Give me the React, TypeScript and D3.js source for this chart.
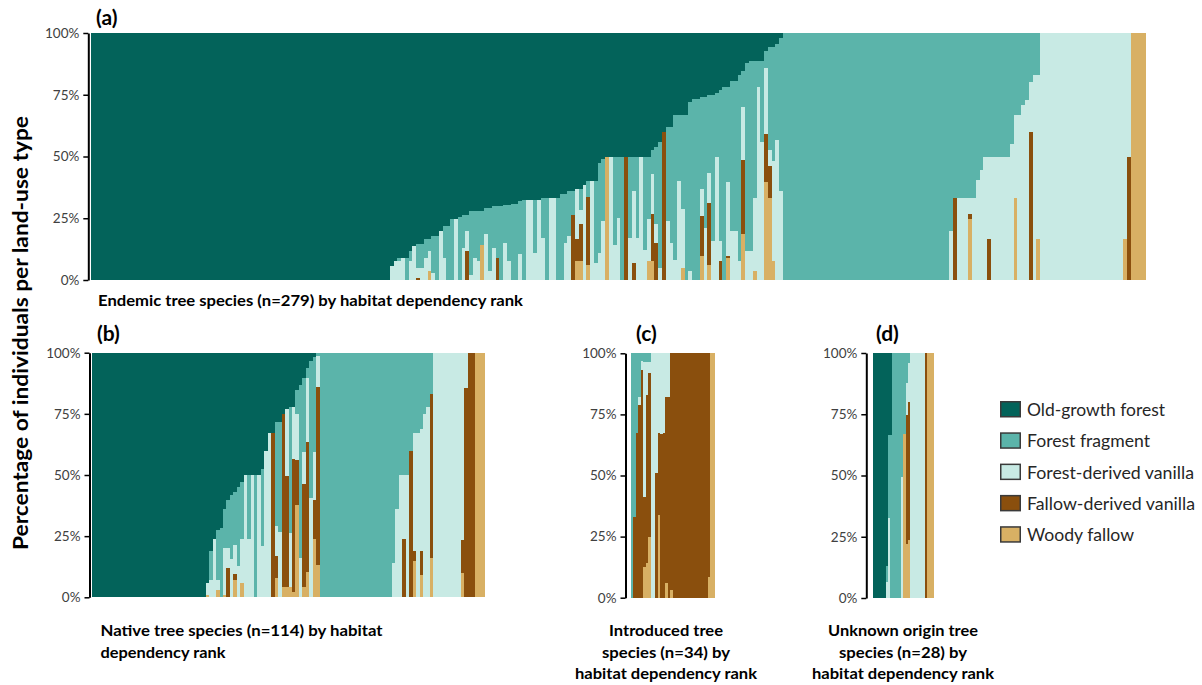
import { useRef, useEffect } from 'react'
import * as d3 from 'd3'

const WIDTH = 1202
const HEIGHT = 685

// land-use types, from the top of each stacked bar down
const landUseNames = ['Old-growth forest', 'Forest fragment', 'Forest-derived vanilla', 'Fallow-derived vanilla', 'Woody fallow']
const landUseKeys = ['og', 'ff', 'fv', 'dv', 'wf']
const landUseColors = ['#03635A', '#5BB4AA', '#C8EAE4', '#8A4F0D', '#D8B064']

const yTickValues = [0, 0.25, 0.5, 0.75, 1]

// (a) endemic species, n=279 -- % of individuals per land-use type
const endemicOld = [
  100, 100, 100, 100, 100, 100, 100, 100, 100, 100,
  100, 100, 100, 100, 100, 100, 100, 100, 100, 100,
  100, 100, 100, 100, 100, 100, 100, 100, 100, 100,
  100, 100, 100, 100, 100, 100, 100, 100, 100, 100,
  100, 100, 100, 100, 100, 100, 100, 100, 100, 100,
  100, 100, 100, 100, 100, 100, 100, 100, 100, 100,
  100, 100, 100, 100, 100, 100, 100, 100, 100, 100,
  100, 100, 100, 100, 100, 100, 100, 100, 100, 94.5,
  92.4, 91.1, 91.1, 91.1, 88.1, 86.4, 85.4, 85.4, 83.3, 83.3,
  82, 82, 80.3, 78.3, 78.3, 75.2, 75.2, 74.6, 73.5, 73.5,
  72.2, 72.2, 72, 72, 71, 71, 70, 70, 70, 69.8,
  69.8, 69.2, 69.2, 68.2, 67.5, 67.5, 67.5, 67.5, 67.5, 67,
  67, 67, 67, 66.8, 65, 65, 64, 64, 63, 63,
  61.4, 60, 60, 60, 52.6, 51, 50, 50, 50, 50,
  50, 50, 50, 50, 50, 50, 50, 50, 47.2, 46,
  44, 40, 38, 38, 33, 33, 33, 33, 28, 26.6,
  26.6, 26, 26, 25, 25, 24.3, 23, 22, 22, 19.6,
  19.6, 17, 15.5, 12, 11.5, 11.5, 11.2, 11.2, 7.2, 5.8,
  5.8, 4.5, 2, 0, 0, 0, 0, 0, 0, 0,
  0, 0, 0, 0, 0, 0, 0, 0, 0, 0,
  0, 0, 0, 0, 0, 0, 0, 0, 0, 0,
  0, 0, 0, 0, 0, 0, 0, 0, 0, 0,
  0, 0, 0, 0, 0, 0, 0, 0, 0, 0,
  0, 0, 0, 0, 0, 0, 0, 0, 0, 0,
  0, 0, 0, 0, 0, 0, 0, 0, 0, 0,
  0, 0, 0, 0, 0, 0, 0, 0, 0, 0,
  0, 0, 0, 0, 0, 0, 0, 0, 0, 0,
  0, 0, 0, 0, 0, 0, 0, 0, 0,
]
const endemicFragment = [
  0, 0, 0, 0, 0, 0, 0, 0, 0, 0,
  0, 0, 0, 0, 0, 0, 0, 0, 0, 0,
  0, 0, 0, 0, 0, 0, 0, 0, 0, 0,
  0, 0, 0, 0, 0, 0, 0, 0, 0, 0,
  0, 0, 0, 0, 0, 0, 0, 0, 0, 0,
  0, 0, 0, 0, 0, 0, 0, 0, 0, 0,
  0, 0, 0, 0, 0, 0, 0, 0, 0, 0,
  0, 0, 0, 0, 0, 0, 0, 0, 0, 0,
  0, 1.3, 0, 8.9, 4.3, 0, 9.7, 9.7, 7.8, 4.8,
  15.2, 18, 0, 12.8, 21.7, 24.8, 0, 25.4, 13.5, 6.8,
  25.6, 18.9, 20.4, 14, 10.4, 25.2, 17, 21.1, 30, 15.2,
  22.4, 30.8, 30.8, 21.3, 32.5, 0, 0, 21.5, 0, 16,
  33, 0, 0, 33.2, 35, 20, 18.3, 9.5, 0, 8.5,
  0, 6.3, 0, 33, 36.4, 25, 0, 0, 36, 25,
  50, 0, 33, 14, 33, 0, 38, 25.2, 9.8, 31.2,
  51.1, 0, 38.2, 47, 59, 27, 38.2, 67, 68.2, 73.4,
  73.4, 37.3, 53, 31.7, 59.3, 25.7, 61.3, 78, 38.5, 60.4,
  60.4, 75.4, 14.3, 76.1, 76.6, 55.3, 10.8, 32.8, 6.8, 41.4,
  46.2, 38.7, 62, 100, 100, 100, 100, 100, 100, 100,
  100, 100, 100, 100, 100, 100, 100, 100, 100, 100,
  100, 100, 100, 100, 100, 100, 100, 100, 100, 100,
  100, 100, 100, 100, 100, 100, 100, 100, 100, 100,
  100, 100, 100, 100, 100, 100, 100, 80, 67, 67,
  67, 67, 67, 67, 59.4, 55.3, 50, 50, 50, 50,
  50, 50, 50, 45, 33.3, 33.3, 29, 27, 20, 17,
  17, 0, 0, 0, 0, 0, 0, 0, 0, 0,
  0, 0, 0, 0, 0, 0, 0, 0, 0, 0,
  0, 0, 0, 0, 0, 0, 0, 0, 0,
]
const endemicForestVanilla = [
  0, 0, 0, 0, 0, 0, 0, 0, 0, 0,
  0, 0, 0, 0, 0, 0, 0, 0, 0, 0,
  0, 0, 0, 0, 0, 0, 0, 0, 0, 0,
  0, 0, 0, 0, 0, 0, 0, 0, 0, 0,
  0, 0, 0, 0, 0, 0, 0, 0, 0, 0,
  0, 0, 0, 0, 0, 0, 0, 0, 0, 0,
  0, 0, 0, 0, 0, 0, 0, 0, 0, 0,
  0, 0, 0, 0, 0, 0, 0, 0, 0, 5.5,
  7.6, 7.6, 8.9, 0, 7.6, 13.6, 4.1, 4.9, 8.9, 8.1,
  2.8, 0, 19.7, 8.9, 0, 0, 24.8, 0, 13, 8.1,
  2.2, 8.9, 7.6, 0, 18.6, 3.8, 13, 0, 0, 15,
  7.8, 0, 0, 10.5, 0, 32.5, 32.5, 11, 32.5, 17,
  0, 33, 33, 0, 0, 15, 17.7, 0, 20.3, 6,
  38.6, 0, 40, 7, 11, 24, 0, 50, 14, 25,
  0, 0, 17, 29.3, 17, 50, 12, 17.3, 16.1, 8,
  4.9, 0, 23.8, 15, 8, 40, 23.9, 0, 3.8, 0,
  0, 10.9, 21, 12.1, 15.7, 50, 7.9, 0, 29.9, 20,
  20, 7.6, 21.8, 11.9, 11.9, 29.4, 78, 56, 26.9, 6.7,
  40.4, 56.8, 36, 0, 0, 0, 0, 0, 0, 0,
  0, 0, 0, 0, 0, 0, 0, 0, 0, 0,
  0, 0, 0, 0, 0, 0, 0, 0, 0, 0,
  0, 0, 0, 0, 0, 0, 0, 0, 0, 0,
  0, 0, 0, 0, 0, 0, 0, 20, 0, 33,
  33, 33, 6.4, 33, 40.6, 44.7, 50, 33.3, 50, 50,
  50, 50, 50, 55, 33.7, 66.7, 71, 73, 20, 83,
  66.4, 100, 100, 100, 100, 100, 100, 100, 100, 100,
  100, 100, 100, 100, 100, 100, 100, 100, 100, 100,
  100, 100, 100, 83.3, 50, 0, 0, 0, 0,
]
const endemicFallowVanilla = [
  0, 0, 0, 0, 0, 0, 0, 0, 0, 0,
  0, 0, 0, 0, 0, 0, 0, 0, 0, 0,
  0, 0, 0, 0, 0, 0, 0, 0, 0, 0,
  0, 0, 0, 0, 0, 0, 0, 0, 0, 0,
  0, 0, 0, 0, 0, 0, 0, 0, 0, 0,
  0, 0, 0, 0, 0, 0, 0, 0, 0, 0,
  0, 0, 0, 0, 0, 0, 0, 0, 0, 0,
  0, 0, 0, 0, 0, 0, 0, 0, 0, 0,
  0, 0, 0, 0, 0, 0, 0.8, 0, 0, 0,
  0, 0, 0, 0, 0, 0, 0, 0, 0, 11.6,
  0, 0, 0, 0, 0, 0, 0, 8.9, 0, 0,
  0, 0, 0, 0, 0, 0, 0, 0, 0, 0,
  0, 0, 0, 0, 0, 0, 0, 26.5, 9.2, 15,
  0, 27.7, 0, 0, 0, 0, 0, 0, 0, 0,
  0, 50, 0, 6.7, 0, 0, 0, 0, 19.4, 14.8,
  0, 60, 0, 0, 0, 0, 0, 0, 0, 0,
  0, 16.2, 0, 25.2, 0, 0, 7.8, 0, 0.7, 0,
  0, 0, 29.8, 0, 0, 0, 0, 0, 19.6, 13.1,
  0, 0, 0, 0, 0, 0, 0, 0, 0, 0,
  0, 0, 0, 0, 0, 0, 0, 0, 0, 0,
  0, 0, 0, 0, 0, 0, 0, 0, 0, 0,
  0, 0, 0, 0, 0, 0, 0, 0, 0, 0,
  0, 0, 0, 0, 0, 0, 0, 0, 33, 0,
  0, 0, 2, 0, 0, 0, 0, 16.7, 0, 0,
  0, 0, 0, 0, 0, 0, 0, 0, 60, 0,
  0, 0, 0, 0, 0, 0, 0, 0, 0, 0,
  0, 0, 0, 0, 0, 0, 0, 0, 0, 0,
  0, 0, 0, 0, 50, 0, 0, 0, 0,
]
const endemicWoodyFallow = [
  0, 0, 0, 0, 0, 0, 0, 0, 0, 0,
  0, 0, 0, 0, 0, 0, 0, 0, 0, 0,
  0, 0, 0, 0, 0, 0, 0, 0, 0, 0,
  0, 0, 0, 0, 0, 0, 0, 0, 0, 0,
  0, 0, 0, 0, 0, 0, 0, 0, 0, 0,
  0, 0, 0, 0, 0, 0, 0, 0, 0, 0,
  0, 0, 0, 0, 0, 0, 0, 0, 0, 0,
  0, 0, 0, 0, 0, 0, 0, 0, 0, 0,
  0, 0, 0, 0, 0, 0, 0, 0, 0, 3.8,
  0, 0, 0, 0, 0, 0, 0, 0, 0, 0,
  0, 0, 0, 14, 0, 0, 0, 0, 0, 0,
  0, 0, 0, 0, 0, 0, 0, 0, 0, 0,
  0, 0, 0, 0, 0, 0, 0, 0, 7.5, 7.5,
  0, 6, 0, 0, 0, 0, 50, 0, 0, 0,
  0, 0, 0, 0, 0, 0, 0, 7.5, 7.5, 0,
  0, 0, 0, 0, 0, 0, 4.9, 0, 0, 0,
  0, 9.6, 0, 6, 0, 0, 0, 0, 8.9, 0,
  0, 0, 18.6, 0, 0, 3.8, 0, 0, 39.5, 33,
  7.6, 0, 0, 0, 0, 0, 0, 0, 0, 0,
  0, 0, 0, 0, 0, 0, 0, 0, 0, 0,
  0, 0, 0, 0, 0, 0, 0, 0, 0, 0,
  0, 0, 0, 0, 0, 0, 0, 0, 0, 0,
  0, 0, 0, 0, 0, 0, 0, 0, 0, 0,
  0, 0, 24.6, 0, 0, 0, 0, 0, 0, 0,
  0, 0, 0, 0, 33, 0, 0, 0, 0, 0,
  16.6, 0, 0, 0, 0, 0, 0, 0, 0, 0,
  0, 0, 0, 0, 0, 0, 0, 0, 0, 0,
  0, 0, 0, 16.7, 0, 100, 100, 100, 100,
]

// (b) native species, n=114
const nativeOld = [
  100, 100, 100, 100, 100, 100, 100, 100, 100, 100,
  100, 100, 100, 100, 100, 100, 100, 100, 100, 100,
  100, 100, 100, 100, 100, 100, 100, 100, 100, 100,
  100, 100, 100, 94, 81, 76, 72.6, 71.6, 64, 60.3,
  58.3, 57, 55, 53, 50, 50, 50, 50, 50, 47.4,
  40.3, 33, 33, 28.3, 28.3, 25, 23, 22, 22, 15.3,
  13.2, 10.5, 6.2, 3.4, 1.8, 0, 0, 0, 0, 0,
  0, 0, 0, 0, 0, 0, 0, 0, 0, 0,
  0, 0, 0, 0, 0, 0, 0, 0, 0, 0,
  0, 0, 0, 0, 0, 0, 0, 0, 0, 0,
  0, 0, 0, 0, 0, 0, 0, 0, 0, 0,
  0, 0, 0, 0,
]
const nativeFragment = [
  0, 0, 0, 0, 0, 0, 0, 0, 0, 0,
  0, 0, 0, 0, 0, 0, 0, 0, 0, 0,
  0, 0, 0, 0, 0, 0, 0, 0, 0, 0,
  0, 0, 0, 0, 12, 0, 20.4, 28.4, 16, 19.7,
  25.9, 21.7, 32, 23, 0, 26, 0, 50, 0, 31.6,
  0, 0, 0, 42.7, 45, 0, 0, 51.8, 0, 9.7,
  70.8, 30, 4.3, 56.2, 38.7, 1.2, 100, 100, 100, 100,
  100, 100, 100, 100, 100, 100, 100, 100, 100, 100,
  100, 100, 100, 100, 100, 100, 100, 85.8, 64.1, 50,
  50, 50, 40.3, 33, 33, 31, 25, 22, 17, 0,
  0, 0, 0, 0, 0, 0, 0, 0, 0, 0,
  0, 0, 0, 0,
]
const nativeForestVanilla = [
  0, 0, 0, 0, 0, 0, 0, 0, 0, 0,
  0, 0, 0, 0, 0, 0, 0, 0, 0, 0,
  0, 0, 0, 0, 0, 0, 0, 0, 0, 0,
  0, 0, 0, 5, 7, 24, 4, 0, 19, 8,
  15.8, 11.6, 13, 18, 50, 24, 50, 0, 50, 21,
  59.7, 67, 0, 12, 26.7, 0, 27.3, 22, 21.3, 19,
  16, 13, 26, 40.4, 19.8, 12.8, 0, 0, 0, 0,
  0, 0, 0, 0, 0, 0, 0, 0, 0, 0,
  0, 0, 0, 0, 0, 0, 0, 14.2, 35.9, 50,
  26, 50, 0, 48, 67, 50, 75, 78, 0, 100,
  100, 100, 100, 100, 100, 100, 100, 76.6, 14.6, 0,
  0, 0, 0, 0,
]
const nativeFallowVanilla = [
  0, 0, 0, 0, 0, 0, 0, 0, 0, 0,
  0, 0, 0, 0, 0, 0, 0, 0, 0, 0,
  0, 0, 0, 0, 0, 0, 0, 0, 0, 0,
  0, 0, 0, 0, 0, 0, 0, 0, 0, 12,
  0, 2.7, 0, 0, 0, 0, 0, 0, 0, 0,
  0, 0, 67, 9, 0, 70.8, 45.5, 0, 54.5, 18.4,
  0, 42.3, 53, 0, 15.7, 72.6, 0, 0, 0, 0,
  0, 0, 0, 0, 0, 0, 0, 0, 0, 0,
  0, 0, 0, 0, 0, 0, 0, 0, 0, 0,
  24, 0, 59.7, 4, 0, 10, 0, 0, 67, 0,
  0, 0, 0, 0, 0, 0, 0, 13.4, 85.4, 100,
  100, 0, 0, 0,
]
const nativeWoodyFallow = [
  0, 0, 0, 0, 0, 0, 0, 0, 0, 0,
  0, 0, 0, 0, 0, 0, 0, 0, 0, 0,
  0, 0, 0, 0, 0, 0, 0, 0, 0, 0,
  0, 0, 0, 1, 0, 0, 3, 0, 1, 0,
  0, 7, 0, 6, 0, 0, 0, 0, 0, 0,
  0, 0, 0, 8, 0, 4.2, 4.2, 4.2, 2.2, 37.6,
  0, 4.2, 10.5, 0, 24, 13.4, 0, 0, 0, 0,
  0, 0, 0, 0, 0, 0, 0, 0, 0, 0,
  0, 0, 0, 0, 0, 0, 0, 0, 0, 0,
  0, 0, 0, 15, 0, 9, 0, 0, 16, 0,
  0, 0, 0, 0, 0, 0, 0, 10, 0, 0,
  0, 100, 100, 100,
]

// (c) introduced species, n=34
const introducedOld = [
  0, 0, 0, 0, 0, 0, 0, 0, 0, 0,
  0, 0, 0, 0, 0, 0, 0, 0, 0, 0,
  0, 0, 0, 0, 0, 0, 0, 0, 0, 0,
  0, 0, 0, 0,
]
const introducedFragment = [
  100, 67, 32.5, 18, 3, 3.7, 3.4, 3.4, 0, 0,
  0, 0, 0, 0, 0, 0, 0, 0, 0, 0,
  0, 0, 0, 0, 0, 0, 0, 0, 0, 0,
  0, 0, 0, 0,
]
const introducedForestVanilla = [
  0, 0, 0, 3, 4, 55, 13.6, 4.6, 100, 100,
  49, 32.5, 33, 32.5, 18, 18, 0, 0, 0, 0,
  0, 0, 0, 0, 0, 0, 0, 0, 0, 0,
  0, 0, 0, 0,
]
const introducedFallowVanilla = [
  0, 33, 67.5, 79, 93, 28.6, 69, 67, 0, 0,
  51, 33.5, 67, 67.5, 76, 82, 97, 100, 100, 100,
  100, 100, 100, 100, 100, 100, 100, 100, 100, 100,
  100, 91.4, 0, 0,
]
const introducedWoodyFallow = [
  0, 0, 0, 0, 0, 12.7, 14, 25, 0, 0,
  0, 34, 0, 0, 6, 0, 3, 0, 0, 0,
  0, 0, 0, 0, 0, 0, 0, 0, 0, 0,
  0, 8.6, 100, 100,
]

// (d) unknown origin species, n=28
const unknownOld = [
  100, 100, 100, 100, 100, 100, 87, 33.4, 33.4, 0,
  0, 0, 0, 0, 0, 0, 0, 0, 0, 0,
  0, 0, 0, 0, 0, 0, 0, 0,
]
const unknownFragment = [
  0, 0, 0, 0, 0, 0, 6.5, 34.1, 66.6, 100,
  100, 100, 100, 50.5, 33.2, 12.3, 4, 0, 0, 0,
  0, 0, 0, 0, 0, 0, 0, 0,
]
const unknownForestVanilla = [
  0, 0, 0, 0, 0, 0, 6.5, 32.5, 0, 0,
  0, 0, 0, 49.5, 0, 12.9, 16.2, 100, 100, 100,
  100, 100, 100, 100, 0, 0, 0, 0,
]
const unknownFallowVanilla = [
  0, 0, 0, 0, 0, 0, 0, 0, 0, 0,
  0, 0, 0, 0, 0, 52.8, 56.2, 0, 0, 0,
  0, 0, 0, 0, 100, 0, 0, 0,
]
const unknownWoodyFallow = [
  0, 0, 0, 0, 0, 0, 0, 0, 0, 0,
  0, 0, 0, 0, 66.8, 22, 23.6, 0, 0, 0,
  0, 0, 0, 0, 0, 100, 100, 100,
]

// layout of the four panels
const panels = [
  {
    tag: '(a)', tagX: 96, tagY: 25,
    series: [endemicOld, endemicFragment, endemicForestVanilla, endemicFallowVanilla, endemicWoodyFallow],
    left: 91, right: 1146, top: 33, bottom: 280, axisX: 88.3,
    caption: ['Endemic tree species (n=279) by habitat dependency rank'],
    captionWidths: [425], captionX: 98, captionY: 306, anchor: 'start',
  },
  {
    tag: '(b)', tagX: 97, tagY: 341,
    series: [nativeOld, nativeFragment, nativeForestVanilla, nativeFallowVanilla, nativeWoodyFallow],
    left: 92, right: 485, top: 352.7, bottom: 597.3, axisX: 89.5,
    caption: ['Native tree species (n=114) by habitat', 'dependency rank'],
    captionWidths: [282, 125], captionX: 100.5, captionY: 636, anchor: 'start',
  },
  {
    tag: '(c)', tagX: 636, tagY: 341,
    series: [introducedOld, introducedFragment, introducedForestVanilla, introducedFallowVanilla, introducedWoodyFallow],
    left: 630.7, right: 715, top: 353.3, bottom: 597.7, axisX: 625.5,
    caption: ['Introduced tree', 'species (n=34) by', 'habitat dependency rank'],
    captionWidths: [114, 128, 182], captionX: 666, captionY: 636, anchor: 'middle',
  },
  {
    tag: '(d)', tagX: 876, tagY: 341,
    series: [unknownOld, unknownFragment, unknownForestVanilla, unknownFallowVanilla, unknownWoodyFallow],
    left: 872.7, right: 934, top: 353, bottom: 598, axisX: 866.3,
    caption: ['Unknown origin tree', 'species (n=28) by', 'habitat dependency rank'],
    captionWidths: [150, 128, 182], captionX: 903, captionY: 636, anchor: 'middle',
  },
]

const legendWidths = [138, 123, 167, 168, 107]
const FONT = 'Lato, "Open Sans", sans-serif'

export default function App() {
  const svgRef = useRef<SVGSVGElement>(null)

  useEffect(() => {
    if (!svgRef.current) return
    const svg = d3.select(svgRef.current)
    svg.selectAll('*').remove()

    svg.append('rect').attr('width', WIDTH).attr('height', HEIGHT).attr('fill', '#ffffff')

    // bottom of the stack first
    const stack = d3
      .stack<any>()
      .keys([...landUseKeys].reverse())
      .offset(d3.stackOffsetExpand)

    panels.forEach((p) => {
      const n = p.series[0].length
      const rows = d3.range(n).map((i) => {
        const row: any = { i }
        landUseKeys.forEach((k, j) => {
          row[k] = p.series[j][i] ?? 0
        })
        return row
      })

      const x = d3.scaleBand<number>().domain(d3.range(n)).range([p.left, p.right]).padding(0)
      const y = d3.scaleLinear().domain([0, 1]).range([p.bottom, p.top])

      const segments = stack(rows)
        .flatMap((layer) =>
          layer
            .filter((s) => s[1] - s[0] > 0)
            .map((s) => ({ key: layer.key, i: s.data.i, y0: s[0], y1: s[1] }))
        )
        .sort((a, b) => a.i - b.i)

      // each bar slightly overlaps the previous one so no seams show
      svg
        .append('g')
        .attr('shape-rendering', 'crispEdges')
        .selectAll('rect')
        .data(segments)
        .join('rect')
        .attr('x', (d) => x(d.i)!)
        .attr('width', (d) => x.bandwidth() + (d.i < n - 1 ? 0.6 : 0))
        .attr('y', (d) => y(d.y1))
        .attr('height', (d) => y(d.y0) - y(d.y1))
        .attr('fill', (d) => landUseColors[landUseKeys.indexOf(d.key)])

      const axis = d3
        .axisLeft(y)
        .tickValues(yTickValues)
        .tickFormat(d3.format('.0%') as any)
        .tickSize(5)
        .tickSizeOuter(0)
        .tickPadding(4)

      const ag = svg.append('g').attr('transform', `translate(${p.axisX},0)`).call(axis)
      ag.select('.domain').attr('stroke', '#000').attr('stroke-width', 2)
      ag.selectAll('.tick line').attr('stroke', '#000').attr('stroke-width', 1.5)
      ag.selectAll('.tick text')
        .attr('font-family', FONT)
        .attr('font-size', 13.5)
        .attr('fill', '#404040')

      // panel tag
      svg
        .append('text')
        .attr('x', p.tagX)
        .attr('y', p.tagY)
        .attr('font-family', FONT)
        .attr('font-weight', 700)
        .attr('font-size', 21)
        .attr('fill', '#000')
        .text(p.tag)

      // caption under the panel
      p.caption.forEach((line, k) => {
        svg
          .append('text')
          .attr('x', p.captionX)
          .attr('y', p.captionY + k * 21.5)
          .attr('text-anchor', p.anchor)
          .attr('font-family', FONT)
          .attr('font-weight', 700)
          .attr('font-size', 16)
          .attr('fill', '#000')
          .attr('textLength', p.captionWidths[k])
          .attr('lengthAdjust', 'spacingAndGlyphs')
          .text(line)
      })
    })

    // y-axis title
    svg
      .append('text')
      .attr('transform', 'translate(19, 333) rotate(-90)')
      .attr('text-anchor', 'middle')
      .attr('dominant-baseline', 'central')
      .attr('font-family', FONT)
      .attr('font-weight', 700)
      .attr('font-size', 21)
      .attr('fill', '#000')
      .attr('textLength', 434)
      .attr('lengthAdjust', 'spacingAndGlyphs')
      .text('Percentage of individuals per land-use type')

    // legend
    const legend = svg.append('g').attr('transform', 'translate(1000, 401)')
    landUseNames.forEach((name, k) => {
      const row = legend.append('g').attr('transform', `translate(0, ${k * 31.3})`)
      row
        .append('rect')
        .attr('x', 0.75)
        .attr('y', 0.75)
        .attr('width', 19.5)
        .attr('height', 15)
        .attr('fill', landUseColors[k])
        .attr('stroke', '#3a3a3a')
        .attr('stroke-width', 1.5)
      row
        .append('text')
        .attr('x', 27)
        .attr('y', 8.5)
        .attr('dominant-baseline', 'central')
        .attr('font-family', FONT)
        .attr('font-size', 17)
        .attr('fill', '#262626')
        .attr('textLength', legendWidths[k])
        .attr('lengthAdjust', 'spacingAndGlyphs')
        .text(name)
    })

    return () => {
      svg.selectAll('*').remove()
    }
  }, [])

  return (
    <svg
      ref={svgRef}
      width={WIDTH}
      height={HEIGHT}
      style={{ position: 'absolute', left: 0, top: 0, display: 'block' }}
    />
  )
}
